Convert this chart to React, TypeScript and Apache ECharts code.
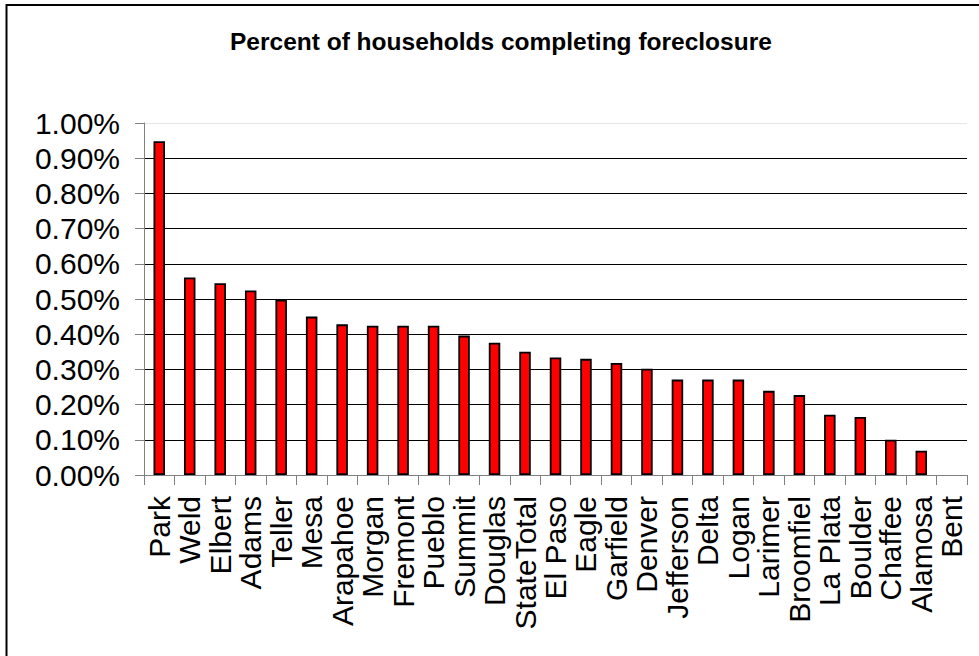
import React, { useEffect, useRef } from "react";
import * as echarts from "echarts";

const categories: string[] = [
  "Park", "Weld", "Elbert", "Adams", "Teller", "Mesa", "Arapahoe", "Morgan", "Fremont",
  "Pueblo", "Summit", "Douglas", "StateTotal", "El Paso", "Eagle", "Garfield", "Denver",
  "Jefferson", "Delta", "Logan", "Larimer", "Broomfiel", "La Plata", "Boulder", "Chaffee",
  "Alamosa", "Bent",
];

// percent of households completing foreclosure (in %)
const percentValues: number[] = [
  0.948, 0.561, 0.545, 0.524, 0.498, 0.45, 0.428, 0.424, 0.424,
  0.424, 0.396, 0.376, 0.35, 0.334, 0.33, 0.318, 0.302,
  0.271, 0.271, 0.271, 0.239, 0.227, 0.171, 0.165, 0.1,
  0.069, 0,
];

const titleText = "Percent of households completing foreclosure";
const yMin = 0;
const yMax = 1;
const yInterval = 0.1;

const FONT = "'Liberation Sans', Arial, Helvetica, sans-serif";

export default function App() {
  const ref = useRef<HTMLDivElement>(null);

  useEffect(() => {
    if (!ref.current) return;
    const chart = echarts.init(ref.current, undefined, { renderer: "svg" });
    const splitColors: string[] = [];
    for (let i = 0; i < 10; i++) splitColors.push("#000000");
    splitColors.push("#e6e6e6");

    chart.setOption({
      animation: false,
      backgroundColor: "#ffffff",
      title: {
        text: titleText,
        left: 225,
        top: 24,
        textStyle: { fontFamily: FONT, fontSize: 24.5, fontWeight: "bold", color: "#000" },
      },
      grid: { left: 144, right: 12, top: 123, bottom: 181, containLabel: false },
      xAxis: {
        type: "category",
        data: categories,
        axisLine: { lineStyle: { color: "#808080", width: 1 } },
        axisTick: { show: true, length: 10, lineStyle: { color: "#808080" } },
        axisLabel: {
          interval: 0,
          rotate: 90,
          margin: 21,
          fontFamily: FONT,
          fontSize: 30,
          color: "#000",
        },
      },
      yAxis: {
        type: "value",
        min: yMin,
        max: yMax,
        interval: yInterval,
        axisLine: { show: true, lineStyle: { color: "#808080", width: 1 } },
        axisTick: { show: true, length: 9, lineStyle: { color: "#808080" } },
        axisLabel: {
          margin: 24,
          fontFamily: FONT,
          fontSize: 30,
          color: "#000",
          formatter: (v: number) => v.toFixed(2) + "%",
        },
        splitLine: { show: true, lineStyle: { color: splitColors, width: 1 } },
      },
      series: [
        {
          type: "bar",
          data: percentValues.map((v) =>
            v === 0 ? { value: v, itemStyle: { borderWidth: 0 } } : v
          ),
          barWidth: 11.5,
          itemStyle: { color: "#ff0000", borderColor: "#000000", borderWidth: 1.8 },
        },
      ],
      graphic: [
        { type: "line", shape: { x1: 6, y1: 5, x2: 979, y2: 5 }, style: { stroke: "#000", lineWidth: 2 } },
        { type: "line", shape: { x1: 6.5, y1: 4, x2: 6.5, y2: 656 }, style: { stroke: "#000", lineWidth: 2 } },
      ],
    });
    return () => chart.dispose();
  }, []);

  return (
    <div
      ref={ref}
      style={{ position: "fixed", left: 0, top: 0, width: 979, height: 656, background: "#fff" }}
    />
  );
}
